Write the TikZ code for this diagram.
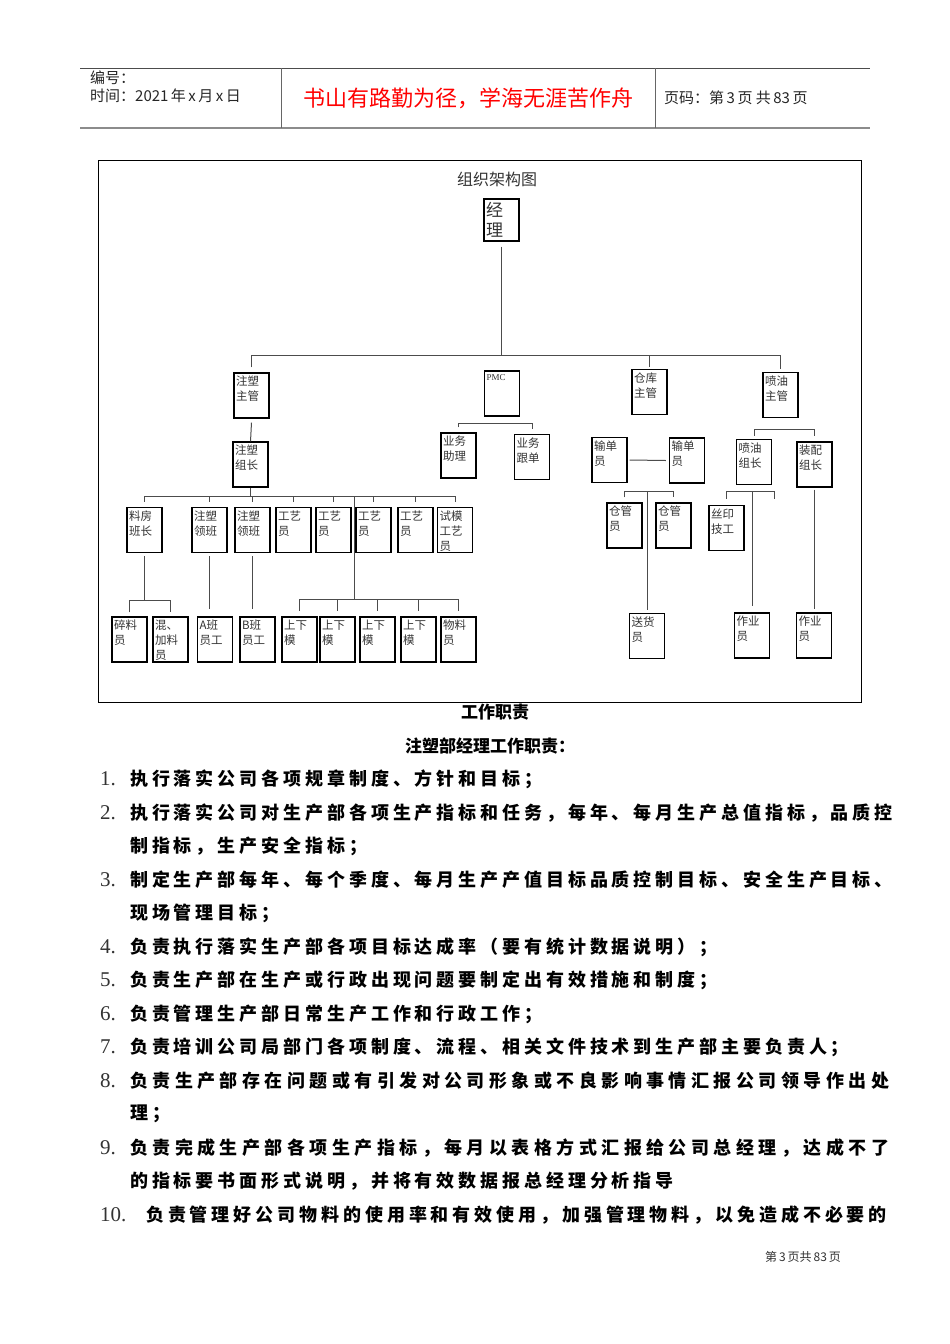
\documentclass[tikz,border=0pt]{standalone}
\usepackage{fontspec}
\setmainfont{Liberation Serif}
\newfontfamily\cjk{Noto Sans CJK SC}

% spaced CJK characters for the duty list
\newlength\cgap
\setlength\cgap{3.9pt}
\def\spcloop#1{\ifx#1\relax\else#1\hskip\cgap\expandafter\spcloop\fi}
\newcommand\spc[1]{\spcloop#1\relax}

% one box of the chart: name, x, y, text
\newcommand\orgbox[4]{\node[box, label={[lbl]north west:#4}] (#1) at (#2,#3) {};}

\tikzset{
  box/.style={draw, line width=1.1pt, minimum width=35pt, minimum height=45pt, inner sep=0pt},
  lbl/.style={anchor=north west, inner sep=0pt, xshift=2.5pt, yshift=-3.5pt, align=left,
    font=\cjk\fontsize{11.5}{15}\selectfont, text=black!80},
  link/.style={draw=black!70, line width=1pt},
  hdr/.style={anchor=west, inner sep=0pt, font=\cjk\fontsize{15}{17}\selectfont, text=black!85},
  num/.style={anchor=west, inner sep=0pt, font=\fontsize{21}{21}\selectfont, text=black!80},
  duty/.style={anchor=west, inner sep=0pt, font=\cjk\bfseries\fontsize{18}{18}\selectfont},
}

\begin{document}
\begin{tikzpicture}[x=1pt, y=-1pt]
    \fill[white] (0,0) rectangle (950,1344);
    \useasboundingbox (0,0) rectangle (950,1344);
    % Header
    \draw[black!70, line width=0.8pt] (80,68) -- (870,68);
    \draw[black!45, line width=2pt] (80,128) -- (870,128);
    \draw[black!60, line width=0.8pt] (281,68) -- (281,128);
    \draw[black!60, line width=0.8pt] (655,68) -- (655,128);
    \node[hdr] (no) at (90,78) {编号：};
    \node[hdr] (date) at (90,96) {时间：2021\,年\,x\,月\,x\,日};
    \node[inner sep=0pt, text=red, font=\cjk\fontsize{22}{22}\selectfont] (motto) at (468,98) {书山有路勤为径，学海无涯苦作舟};
    \node[hdr] (page) at (664,98) {页码：第\,3\,页\ 共\,83\,页};

    % Chart frame and title
    \draw[line width=1pt] (98,160) rectangle (861,702);
    \node[inner sep=0pt, font=\cjk\fontsize{16}{16}\selectfont, text=black!80] (title) at (497,179) {组织架构图};
    \node[box, minimum width=35pt, minimum height=42pt,
      label={[lbl, font=\cjk\fontsize{17}{20}\selectfont]north west:经\\理}] (jl) at (501.5,220) {};

    % Level 1
    \orgbox{zszg}{251.5}{395.5}{注塑\\主管}
    \node[box, label={[lbl, font=\fontsize{9}{12}\selectfont]north west:PMC}] (pmc) at (502,393.5) {};
    \orgbox{ckzg}{649.5}{392}{仓库\\主管}
    \orgbox{pyzg}{780.5}{395}{喷油\\主管}

    % Level 2
    \orgbox{zszz}{250.5}{464.5}{注塑\\组长}
    \orgbox{ywzl}{458.5}{455.5}{业务\\助理}
    \orgbox{ywgd}{532}{457}{业务\\跟单}
    \orgbox{sdy1}{609.5}{460}{输单\\员}
    \orgbox{sdy2}{687}{460.5}{输单\\员}
    \orgbox{pyzz}{754}{462}{喷油\\组长}
    \orgbox{zpzz}{814.5}{464.5}{装配\\组长}

    % Level 3
    \orgbox{lfbz}{144.5}{530}{料房\\班长}
    \orgbox{zslb1}{209.5}{530}{注塑\\领班}
    \orgbox{zslb2}{252.5}{530}{注塑\\领班}
    \orgbox{gy1}{293.5}{530}{工艺\\员}
    \orgbox{gy2}{333.5}{530}{工艺\\员}
    \orgbox{gy3}{373.5}{530}{工艺\\员}
    \orgbox{gy4}{415.5}{530}{工艺\\员}
    \orgbox{smgy}{455}{530}{试模\\工艺\\员}
    \orgbox{cgy1}{624.5}{525.5}{仓管\\员}
    \orgbox{cgy2}{673.5}{525.5}{仓管\\员}
    \orgbox{sysj}{726.5}{528}{丝印\\技工}

    % Level 4
    \orgbox{sly}{129.5}{639.5}{碎料\\员}
    \orgbox{hjly}{170.5}{639.5}{混、\\加料\\员}
    \orgbox{aban}{215}{639.5}{A班\\员工}
    \orgbox{bban}{257.5}{639.5}{B班\\员工}
    \orgbox{sxm1}{299.5}{639.5}{上下\\模}
    \orgbox{sxm2}{337.5}{639.5}{上下\\模}
    \orgbox{sxm3}{377.5}{639.5}{上下\\模}
    \orgbox{sxm4}{418.5}{639.5}{上下\\模}
    \orgbox{wly}{458.5}{639.5}{物料\\员}
    \orgbox{shy}{647}{636}{送货\\员}
    \orgbox{zyy1}{752}{635.5}{作业\\员}
    \orgbox{zyy2}{814}{635.5}{作业\\员}

    % Bars
    \coordinate (topbar) at (0,355);
    \coordinate (zsbar) at (0,496);
    \coordinate (mj) at (354,496);
    \coordinate (mjbar) at (0,599);
    \coordinate (lfbar) at (0,600);
    \coordinate (pmcbar) at (0,423);
    \coordinate (ckbar) at (0,491);
    \coordinate (pybar) at (0,429);
    \coordinate (pyzzbar) at (0,491);
    \coordinate (pyend) at (774,491);

    % Manager to the four heads
    \draw[link] ([yshift=-5pt]jl.south) -- (jl.south |- topbar);
    \draw[link] ([yshift=5pt]zszg.north) -- (zszg.north |- topbar) -- (pyzg.north |- topbar) -- ([yshift=3pt]pyzg.north);
    \draw[link] (ckzg.north |- topbar) -- ([yshift=2pt]ckzg.north);

    % Injection branch
    \draw[link] ([yshift=-4pt]zszg.south) -- (zszz.north);
    \draw[link] (zszz.south) -- (zszz.south |- zsbar);
    \draw[link] (lfbz.north |- zsbar) -- (smgy.north |- zsbar);
    \foreach \n in {lfbz,zslb1,zslb2,gy1,gy2,gy3,gy4,smgy}
      \draw[link] (\n.north |- zsbar) -- ([yshift=5pt]\n.north);
    \draw[link] (mj) -- (mj |- mjbar);
    \draw[link] (sxm1.north |- mjbar) -- (wly.north |- mjbar);
    \foreach \n in {sxm1,sxm2,sxm3,sxm4,wly}
      \draw[link] (\n.north |- mjbar) -- ([yshift=5pt]\n.north);
    \draw[link] ([yshift=-3pt]lfbz.south) -- (lfbz.south |- lfbar);
    \draw[link] ([yshift=4pt]sly.north) -- (sly.north |- lfbar) -- (hjly.north |- lfbar) -- ([yshift=4pt]hjly.north);
    \draw[link] ([yshift=-3pt]zslb1.south) -- ([yshift=7pt]zslb1.south |- aban.north);
    \draw[link] ([yshift=-3pt]zslb2.south) -- ([yshift=7pt]zslb2.south |- bban.north);

    % PMC branch
    \draw[link] ([yshift=5pt]ywzl.north) -- (ywzl.north |- pmcbar) -- (ywgd.north |- pmcbar) -- ([yshift=5pt]ywgd.north);

    % Warehouse branch
    \draw[link] ([xshift=2pt]sdy1.east) -- ([xshift=-3pt]sdy2.west);
    \draw[link] ([yshift=5pt]cgy1.north) -- (cgy1.north |- ckbar) -- (cgy2.north |- ckbar) -- ([yshift=5pt]cgy2.north);
    \draw[link] (shy.north |- ckbar) -- ([yshift=3pt]shy.north);

    % Spray branch
    \draw[link] ([yshift=3pt]pyzz.north) -- (pyzz.north |- pybar) -- (zpzz.north |- pybar) -- ([yshift=5pt]zpzz.north);
    \draw[link] ([yshift=6pt]sysj.north) -- (sysj.north |- pyzzbar) -- (pyend) -- ++(0,8);
    \draw[link] (zyy1.north |- pyzzbar) -- ([yshift=6pt]zyy1.north);
    \draw[link] ([yshift=-2pt]zpzz.south) -- ([yshift=3pt]zpzz.south |- zyy2.north);

    % Duties
    \node[inner sep=0pt, font=\cjk\bfseries\fontsize{17}{17}\selectfont] (h1) at (495,712) {工作职责};
    \node[inner sep=0pt, font=\cjk\bfseries\fontsize{17}{17}\selectfont] (h2) at (490,746) {注塑部经理工作职责：};
    \node[num] (n1) at (100,779) {1.};
    \node[duty] (d1) at (130,779) {\spc{执行落实公司各项规章制度、方针和目标；}};
    \node[num] (n2) at (100,813) {2.};
    \node[duty] (d2) at (130,813) {\spc{执行落实公司对生产部各项生产指标和任务，每年、每月生产总值指标，品质控}};
    \node[duty] (d2b) at (130,846) {\spc{制指标，生产安全指标；}};
    \node[num] (n3) at (100,880) {3.};
    \node[duty] (d3) at (130,880) {\spc{制定生产部每年、每个季度、每月生产产值目标品质控制目标、安全生产目标、}};
    \node[duty] (d3b) at (130,913) {\spc{现场管理目标；}};
    \node[num] (n4) at (100,947) {4.};
    \node[duty] (d4) at (130,947) {\spc{负责执行落实生产部各项目标达成率（要有统计数据说明）；}};
    \node[num] (n5) at (100,980) {5.};
    \node[duty] (d5) at (130,980) {\spc{负责生产部在生产或行政出现问题要制定出有效措施和制度；}};
    \node[num] (n6) at (100,1014) {6.};
    \node[duty] (d6) at (130,1014) {\spc{负责管理生产部日常生产工作和行政工作；}};
    \node[num] (n7) at (100,1047) {7.};
    \node[duty] (d7) at (130,1047) {\spc{负责培训公司局部门各项制度、流程、相关文件技术到生产部主要负责人；}};
    \node[num] (n8) at (100,1081) {8.};
    \node[duty] (d8) at (130,1081) {\setlength\cgap{4.45pt}\spc{负责生产部存在问题或有引发对公司形象或不良影响事情汇报公司领导作出处}};
    \node[duty] (d8b) at (130,1114) {\spc{理；}};
    \node[num] (n9) at (100,1148) {9.};
    \node[duty] (d9) at (130,1148) {\setlength\cgap{4.45pt}\spc{负责完成生产部各项生产指标，每月以表格方式汇报给公司总经理，达成不了}};
    \node[duty] (d9b) at (130,1181) {\spc{的指标要书面形式说明，并将有效数据报总经理分析指导}};
    \node[num] (n10) at (100,1215) {10.};
    \node[duty] (d10) at (146,1215) {\spc{负责管理好公司物料的使用率和有效使用，加强管理物料，以免造成不必要的}};

    % Footer
    \node[inner sep=0pt, font=\cjk\fontsize{12}{12}\selectfont, text=black!80] (foot) at (803,1257) {第\,3\,页共\,83\,页};
\end{tikzpicture}
\end{document}
